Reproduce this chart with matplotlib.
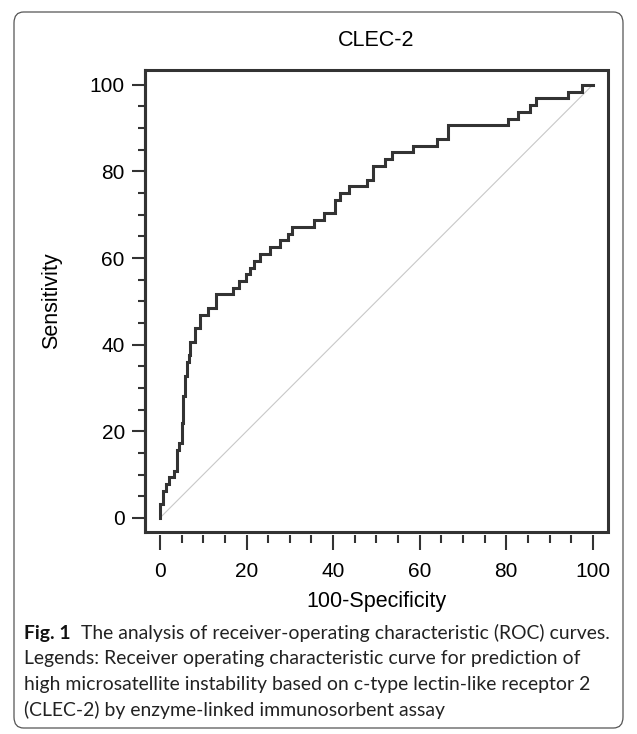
import matplotlib
matplotlib.use("Agg")
import matplotlib.pyplot as plt
from matplotlib.patches import FancyBboxPatch, Rectangle
from matplotlib.ticker import MultipleLocator

# ROC curve vertices (100-Specificity, Sensitivity), step 'post'
fpr = [0.0, 0.0, 0.8, 1.5, 2.0, 3.3, 3.9, 4.5, 5.0, 5.4, 5.8, 6.2, 6.6, 6.9,
       8.1, 9.2, 11.2, 12.9, 16.9, 18.3, 19.8, 20.8, 21.8, 23.1, 25.5, 27.7,
       29.6, 30.4, 35.5, 37.9, 40.4, 41.5, 43.7, 47.8, 49.2, 51.9, 53.7, 58.5,
       64.1, 66.5, 80.5, 82.7, 85.4, 86.8, 94.2, 97.5, 100.0]
tpr = [0.0, 3.1, 6.3, 7.8, 9.4, 10.9, 15.6, 17.2, 21.9, 28.1, 32.8, 35.9, 37.5, 40.6,
       43.8, 46.9, 48.4, 51.6, 53.1, 54.7, 56.3, 57.8, 59.4, 60.9, 62.5, 64.1,
       65.6, 67.2, 68.8, 70.3, 73.4, 75.0, 76.6, 78.1, 81.3, 82.8, 84.4, 85.9,
       87.5, 90.6, 92.2, 93.8, 95.3, 96.9, 98.4, 100.0, 100.0]

ref_line = [0, 100]
major_ticks = [0, 20, 40, 60, 80, 100]

title = "CLEC-2"
xlabel = "100-Specificity"
ylabel = "Sensitivity"
cap_bold = "Fig. 1"
cap_lines = [
    "The analysis of receiver-operating characteristic (ROC) curves.",
    "Legends: Receiver operating characteristic curve for prediction of",
    "high microsatellite instability based on c-type lectin-like receptor 2",
    "(CLEC-2) by enzyme-linked immunosorbent assay",
]

W, H = 637, 734
fig = plt.figure(figsize=(W / 100, H / 100), dpi=100)
fig.patch.set_facecolor("white")

# outer rounded border
border = FancyBboxPatch((14 / W, 1 - 728 / H), (623 - 14) / W, (728 - 12) / H,
                        boxstyle="round,pad=0,rounding_size=0.015",
                        transform=fig.transFigure, fill=False,
                        edgecolor="#555555", linewidth=0.9)
fig.patches.append(border)

ax = fig.add_axes([145 / W, 1 - 532 / H, (608 - 145) / W, (532 - 70) / H])
ax.set_xlim(-3.46, 103.5)
ax.set_ylim(-3.25, 103.4)

ax.plot(ref_line, ref_line, color="#c8c8c8", linewidth=0.8, zorder=1)
ax.step(fpr, tpr, where="post", color="#333333", linewidth=2.2,
        solid_joinstyle="miter", zorder=2)

# frame drawn as a rectangle; bottom spine pushed out slightly for the x ticks
for name in ["top", "right"]:
    ax.spines[name].set_visible(False)
ax.spines["left"].set_linewidth(2.2)
ax.spines["left"].set_color("#333333")
ax.spines["bottom"].set_position(("outward", 2.5))
ax.spines["bottom"].set_color("none")
ax.add_patch(Rectangle((0, 0), 1, 1, transform=ax.transAxes, fill=False,
                       edgecolor="#333333", linewidth=2.2, clip_on=False,
                       zorder=3, joinstyle="miter"))

font = "Liberation Sans"
ax.set_xticks(major_ticks)
ax.set_yticks(major_ticks)
ax.xaxis.set_minor_locator(MultipleLocator(5))
ax.yaxis.set_minor_locator(MultipleLocator(5))
ax.tick_params(which="major", length=9.5, width=1.5, color="#333333",
               labelsize=15, pad=5, direction="out")
ax.tick_params(which="minor", length=5, width=1.5, color="#333333",
               direction="out")
ax.tick_params(axis="x", which="major", length=11, pad=8)
ax.tick_params(axis="x", which="minor", length=5.5)
for lab in ax.get_xticklabels() + ax.get_yticklabels():
    lab.set_fontfamily(font)

fig.text(376.5 / W, 1 - 602 / H, xlabel, ha="center", va="center",
         fontsize=15.5, fontfamily=font)
fig.text(52 / W, 1 - 301 / H, ylabel, ha="center", va="center", rotation=90,
         fontsize=15.5, fontfamily=font)
fig.text(376.5 / W, 1 - 40 / H, title, ha="center", va="center",
         fontsize=15.5, fontfamily=font)

# caption, sized so the first line spans the reference width
cap_font = "Lato"
x_left, x_right = 24, 608
y0 = 633
dy = 25.8
renderer = fig.canvas.get_renderer()

def width_at(size):
    a = fig.text(0, 0, cap_bold, fontsize=size, fontweight="bold", fontfamily=cap_font)
    b = fig.text(0, 0, cap_lines[0], fontsize=size, fontfamily=cap_font)
    wa = a.get_window_extent(renderer).width
    wb = b.get_window_extent(renderer).width
    a.remove(); b.remove()
    return wa, wb

size = 13.0
wa, wb = width_at(size)
gap = 0.75 * size
size = size * (x_right - x_left - gap) / (wa + wb)
wa, wb = width_at(size)

fig.text(x_left / W, 1 - y0 / H, cap_bold, fontsize=size, fontweight="bold",
         fontfamily=cap_font, va="center", ha="left", color="#111111")
fig.text((x_left + wa + 0.75 * size) / W, 1 - y0 / H, cap_lines[0], fontsize=size,
         fontfamily=cap_font, va="center", ha="left", color="#222222")
for i, line in enumerate(cap_lines[1:], start=1):
    fig.text(x_left / W, 1 - (y0 + i * dy) / H, line, fontsize=size,
             fontfamily=cap_font, va="center", ha="left", color="#222222")

fig.savefig("out.png", dpi=100, facecolor="white")
